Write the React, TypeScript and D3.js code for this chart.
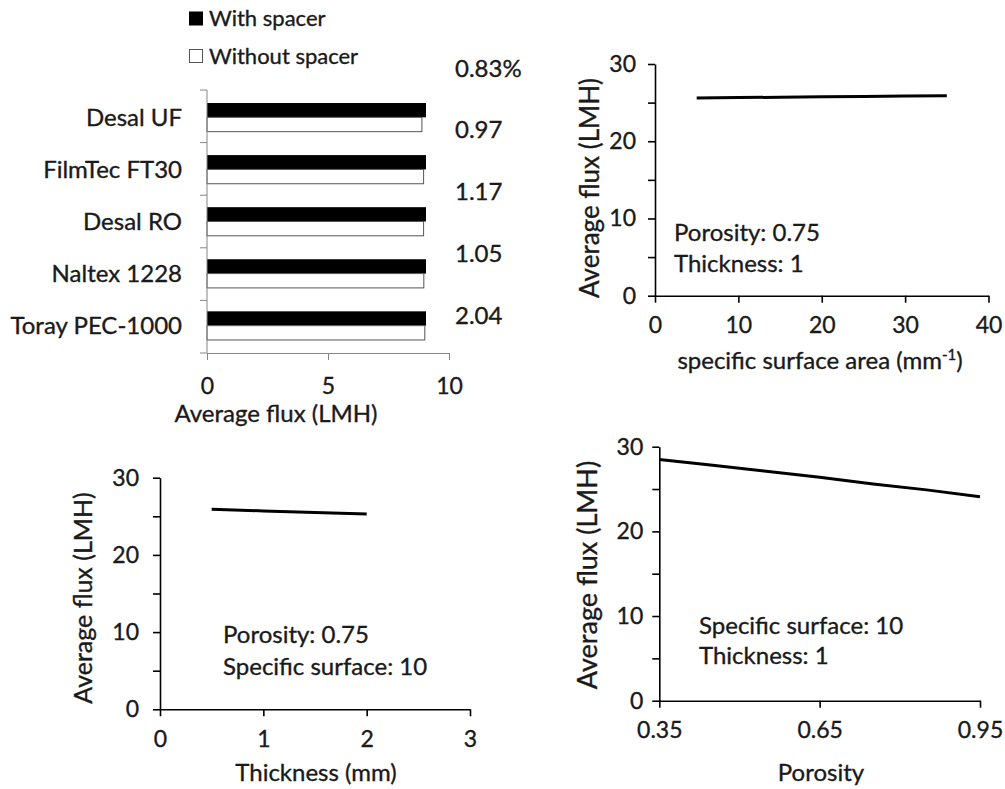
import * as d3 from "d3";
import { useEffect, useRef } from "react";

// bar chart (top left)
const membranes = ["Desal UF", "FilmTec FT30", "Desal RO", "Naltex 1228", "Toray PEC-1000"];
const withSpacer = [9.05, 9.05, 9.05, 9.05, 9.05];
const withoutSpacer = [8.88, 8.95, 8.95, 8.96, 9.0];
const diffLabels = ["0.83%", "0.97", "1.17", "1.05", "2.04"];
const barTicks = [0, 5, 10];
const seriesNames = ["With spacer", "Without spacer"];

// line panels
const surfaceArea = [5, 10, 15, 20, 25, 30, 35];
const fluxBySurface = [25.6, 25.65, 25.7, 25.75, 25.8, 25.85, 25.9];
const surfaceTicks = [0, 10, 20, 30, 40];

const thickness = [0.5, 1, 1.5, 2];
const fluxByThickness = [25.9, 25.7, 25.5, 25.3];
const thicknessTicks = [0, 1, 2, 3];

const porosity = [0.35, 0.45, 0.55, 0.65, 0.75, 0.85, 0.95];
const fluxByPorosity = [28.5, 27.8, 27.1, 26.4, 25.6, 24.9, 24.1];
const porosityTicks = [0.35, 0.65, 0.95];

const fluxTicks = [0, 5, 10, 15, 20, 25, 30];

const FONT = "Lato, 'Open Sans', sans-serif";
const FS = 24;
const TICK_FS = 23;
const INK = "#1a1a1a";

export default function App() {
    const svgRef = useRef(null);

    useEffect(() => {
        const svg = d3.select(svgRef.current);
        svg.selectAll("*").remove();
        svg.attr("font-family", FONT);

        // slight stroke so Lato looks as heavy as the scanned text
        const ink = (sel) => sel.attr("fill", INK).attr("stroke", INK).attr("stroke-width", 0.35);

        // ---------- bar chart ----------
        const gray = "#868686";
        const xBar = d3.scaleLinear().domain([0, 10]).range([207, 449]);
        const yBand = d3.scaleBand().domain(membranes).range([90, 353])
            .paddingInner(0.45).paddingOuter(0.25);
        const ySub = d3.scaleBand().domain(seriesNames).range([0, yBand.bandwidth()]);

        const bars = svg.append("g");
        membranes.forEach((m, i) => {
            bars.append("rect")
                .attr("x", xBar(0))
                .attr("y", yBand(m) + ySub("With spacer"))
                .attr("width", xBar(withSpacer[i]) - xBar(0))
                .attr("height", ySub.bandwidth())
                .attr("fill", "#000");
            bars.append("rect")
                .attr("x", xBar(0))
                .attr("y", yBand(m) + ySub("Without spacer"))
                .attr("width", xBar(withoutSpacer[i]) - xBar(0))
                .attr("height", ySub.bandwidth())
                .attr("fill", "#fff")
                .attr("stroke", "#555")
                .attr("stroke-width", 1);
        });

        // category axis, ticks between categories
        const catAxis = svg.append("g");
        const [y0, y1] = yBand.range();
        catAxis.append("line")
            .attr("x1", xBar(0)).attr("x2", xBar(0))
            .attr("y1", y0).attr("y2", y1)
            .attr("stroke", gray);
        d3.range(membranes.length + 1).forEach(i => {
            const yy = y0 + i * (y1 - y0) / membranes.length;
            catAxis.append("line")
                .attr("x1", xBar(0) - 7).attr("x2", xBar(0))
                .attr("y1", yy).attr("y2", yy)
                .attr("stroke", gray);
        });
        catAxis.selectAll("text")
            .data(membranes)
            .join("text")
            .attr("x", 182)
            .attr("y", d => yBand(d) + yBand.bandwidth() / 2)
            .attr("dy", "0.36em")
            .attr("text-anchor", "end")
            .attr("font-size", FS)
            .call(ink)
            .text(d => d);

        const xBarAxis = svg.append("g")
            .attr("transform", "translate(0,353)")
            .call(d3.axisBottom(xBar).tickValues(barTicks).tickSize(7).tickSizeOuter(0).tickPadding(18));
        xBarAxis.selectAll("path, line").attr("stroke", gray);
        xBarAxis.selectAll("text").attr("font-size", TICK_FS).attr("font-family", FONT).call(ink);

        svg.append("text")
            .attr("x", 276).attr("y", 413).attr("dy", "0.36em")
            .attr("text-anchor", "middle").attr("font-size", FS)
            .call(ink)
            .text("Average flux (LMH)");

        const diffY = d3.scalePoint().domain(diffLabels).range([68, 315]);
        svg.append("g").selectAll("text")
            .data(diffLabels)
            .join("text")
            .attr("x", 455)
            .attr("y", d => diffY(d))
            .attr("dy", "0.36em")
            .attr("font-size", FS)
            .call(ink)
            .text(d => d);

        // legend
        const legend = svg.append("g");
        const legendY = d3.scalePoint().domain(seriesNames).range([18.5, 56]);
        seriesNames.forEach((s, i) => {
            legend.append("rect")
                .attr("x", 189.5).attr("y", legendY(s) - 6.5)
                .attr("width", 13).attr("height", 13)
                .attr("fill", i === 0 ? "#000" : "#fff")
                .attr("stroke", i === 0 ? "#000" : "#555");
            legend.append("text")
                .attr("x", 209).attr("y", legendY(s)).attr("dy", "0.36em")
                .attr("font-size", 22)
                .call(ink)
                .text(s);
        });

        // ---------- line panels ----------
        const panel = (opts) => {
            const { xs, ys, xDomain, xRange, yRange, xTicks, xFmt, yLabelPad, title, titleXY, yTitleXY, yTitleFs, notes, notesXY, superscript } = opts;
            const x = d3.scaleLinear().domain(xDomain).range(xRange);
            const y = d3.scaleLinear().domain([0, 30]).range(yRange);
            const g = svg.append("g");

            const yAxis = g.append("g")
                .attr("transform", `translate(${xRange[0]},0)`)
                .call(d3.axisLeft(y).tickValues(fluxTicks).tickSize(7).tickSizeOuter(0)
                    .tickPadding(yLabelPad).tickFormat(d => d % 10 === 0 ? String(d) : ""));
            const xAxis = g.append("g")
                .attr("transform", `translate(0,${yRange[0]})`)
                .call(d3.axisBottom(x).tickValues(xTicks).tickSize(7).tickSizeOuter(0)
                    .tickPadding(14).tickFormat(xFmt));
            [yAxis, xAxis].forEach(a => {
                a.selectAll("path, line").attr("stroke", "#000").attr("stroke-width", 1.6);
                a.selectAll("text").attr("font-size", TICK_FS).attr("font-family", FONT).call(ink);
            });

            const line = d3.line()
                .x(d => x(d[0]))
                .y(d => y(d[1]));
            g.append("path")
                .attr("d", line(d3.zip(xs, ys)))
                .attr("fill", "none")
                .attr("stroke", "#000")
                .attr("stroke-width", 3);

            const t = g.append("text")
                .attr("x", titleXY[0]).attr("y", titleXY[1]).attr("dy", "0.36em")
                .attr("text-anchor", "middle").attr("font-size", FS)
                .call(ink)
                .text(title);
            if (superscript) {
                t.append("tspan").attr("font-size", 15).attr("dy", "-0.6em").text(superscript);
                t.append("tspan").attr("font-size", FS).attr("dy", "0.38em").text(")");
            }

            g.append("text")
                .attr("transform", `translate(${yTitleXY[0]},${yTitleXY[1]}) rotate(-90)`)
                .attr("dy", "0.36em")
                .attr("text-anchor", "middle").attr("font-size", yTitleFs)
                .call(ink)
                .text("Average flux (LMH)");

            notes.forEach((n, i) => {
                g.append("text")
                    .attr("x", notesXY[0]).attr("y", notesXY[1] + i * notesXY[2]).attr("dy", "0.36em")
                    .attr("font-size", FS)
                    .call(ink)
                    .text(n);
            });
        };

        panel({
            xs: surfaceArea, ys: fluxBySurface,
            xDomain: [0, 40], xRange: [655, 988.5], yRange: [295.7, 64],
            xTicks: surfaceTicks, xFmt: d => String(d), yLabelPad: 12,
            title: "specific surface area (mm", superscript: "-1",
            titleXY: [820, 360], yTitleXY: [590, 188], yTitleFs: 26,
            notes: ["Porosity: 0.75", "Thickness: 1"], notesXY: [674, 232, 31],
        });

        panel({
            xs: thickness, ys: fluxByThickness,
            xDomain: [0, 3], xRange: [160, 470], yRange: [709.3, 477.7],
            xTicks: thicknessTicks, xFmt: d => String(d), yLabelPad: 14,
            title: "Thickness (mm)",
            titleXY: [316, 772], yTitleXY: [83, 598], yTitleFs: 25,
            notes: ["Porosity: 0.75", "Specific surface: 10"], notesXY: [223, 634, 32],
        });

        panel({
            xs: porosity, ys: fluxByPorosity,
            xDomain: [0.35, 0.95], xRange: [659.3, 980], yRange: [700.7, 446.7],
            xTicks: porosityTicks, xFmt: d => d3.format(".2f")(d), yLabelPad: 9,
            title: "Porosity",
            titleXY: [821, 772], yTitleXY: [587, 575], yTitleFs: 27,
            notes: ["Specific surface: 10", "Thickness: 1"], notesXY: [699, 625, 30],
        });
    }, []);

    return (
        <svg ref={svgRef} width={1005} height={789}
            style={{ position: "absolute", left: 0, top: 0, background: "#fff" }} />
    );
}
